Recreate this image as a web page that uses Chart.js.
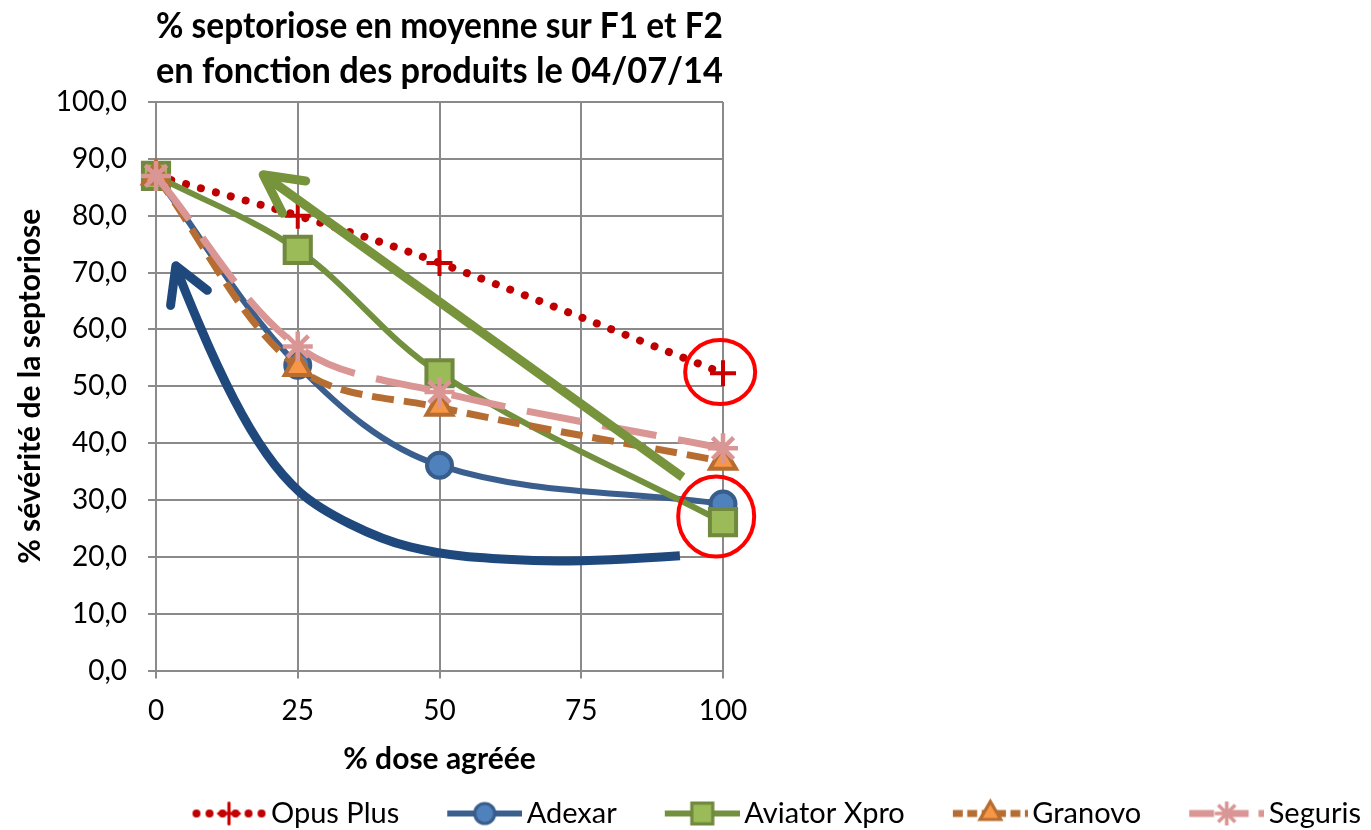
<!DOCTYPE html>
<html>
<head>
<meta charset="utf-8">
<script src="https://cdn.jsdelivr.net/npm/chart.js@4.4.1/dist/chart.umd.min.js"></script>
<style>
  html, body { margin: 0; padding: 0; background: #ffffff; }
  #wrap { width: 1371px; height: 830px; position: relative; }
</style>
</head>
<body>
<div id="wrap"><canvas id="c" width="1371" height="830"></canvas></div>
<script>
// ---- Data ----
const doses = [0, 25, 50, 100];
const opusPlus = [87.0, 80.0, 71.7, 52.3];
const adexar = [87.0, 53.7, 36.1, 29.3];
const aviatorXpro = [87.0, 74.0, 52.3, 26.1];
const granovo = [87.0, 53.3, 46.3, 36.8];
const seguris = [87.0, 57.0, 49.0, 39.1];
const seriesNames = ['Opus Plus', 'Adexar', 'Aviator Xpro', 'Granovo', 'Seguris'];
const xTicks = [0, 25, 50, 75, 100];
const titleLines = ['% septoriose en moyenne sur F1 et F2', 'en fonction des produits le 04/07/14'];
const xTitle = '% dose agréée';
const yTitle = '% sévérité de la septoriose';

// Annotation shapes, in data units (x = % dose, y = % sévérité)
const blueArrowPath = [[92.4,20.2],[74.8,19.0],[58.4,19.7],[49.6,20.6],[40.0,22.9],[28.4,28.7],[22.4,34.0],[16.6,42.2],[10.8,53.4],[4.8,67.5],[3.5,71.2]];
const greenArrowPath = [[92.9,34.0],[18.9,87.2]];
const redCircleCenters = [[99.5,52.5],[98.8,27.1]];

const FONT = "Lato, 'Open Sans', 'Noto Sans', sans-serif";
const GRID = '#8a8a8a';

function pts(arr) { return doses.map((d, i) => ({x: d, y: arr[i]})); }

const datasets = [
  { label: seriesNames[0], data: pts(opusPlus), borderColor: '#c00000', backgroundColor: '#c00000',
    borderWidth: 8, borderDash: [0.01, 15.5], borderCapStyle: 'round',
    pointStyle: 'cross', pointRadius: 13, pointBorderWidth: 4, pointBorderColor: '#c80000', order: 5, clip: false },
  { label: seriesNames[1], data: pts(adexar), borderColor: '#3a5f8e', backgroundColor: '#4f81bd',
    borderWidth: 6, pointStyle: 'circle', pointRadius: 12.5, pointBorderWidth: 4,
    pointBorderColor: '#385d8a', pointBackgroundColor: '#4f81bd', order: 4, clip: false },
  { label: seriesNames[2], data: pts(aviatorXpro), borderColor: '#72903d', backgroundColor: '#9bbb59',
    borderWidth: 6, pointStyle: 'rect', pointRadius: 18.5, pointBorderWidth: 4,
    pointBorderColor: '#71893f', pointBackgroundColor: '#9bbb59', order: 3, clip: false },
  { label: seriesNames[3], data: pts(granovo), borderColor: '#b66d31', backgroundColor: '#f79646',
    borderWidth: 7, borderDash: [22, 10], pointStyle: 'triangle', pointRadius: 15, pointBorderWidth: 4,
    pointBorderColor: '#b66d31', pointBackgroundColor: '#f79646', order: 2, clip: false },
  { label: seriesNames[4], data: pts(seguris), borderColor: '#d99694', backgroundColor: '#d99694',
    borderWidth: 7, borderDash: [55, 22], pointStyle: 'star', pointRadius: 15, pointBorderWidth: 4.5,
    pointBorderColor: '#d99694', order: 1, clip: false }
];

// legend images: line + marker
const LEG_BOX = 103;
function legendImage(ds) {
  const W = LEG_BOX + 20, H = 34;
  const cv = document.createElement('canvas');
  cv.width = W; cv.height = H;
  const ctx = cv.getContext('2d');
  const x0 = W - 75, x1 = W, cy = H / 2, cx = (x0 + x1) / 2;
  ctx.strokeStyle = ds.borderColor;
  ctx.lineWidth = ds.borderWidth;
  ctx.lineCap = ds.borderCapStyle || 'butt';
  if (ds.borderDash) ctx.setLineDash(ds.label === 'Opus Plus' ? [0.01, 13] : ds.borderDash.map(v => v * 0.45));
  ctx.beginPath(); ctx.moveTo(x0 + (ds.label === 'Opus Plus' ? 5 : 0), cy); ctx.lineTo(x1, cy); ctx.stroke();
  ctx.setLineDash([]);
  ctx.fillStyle = ds.pointBackgroundColor || ds.backgroundColor;
  ctx.strokeStyle = ds.pointBorderColor;
  ctx.lineWidth = ds.pointBorderWidth * 0.8;
  Chart.helpers.drawPoint(ctx, {pointStyle: ds.pointStyle, rotation: 0, radius: ds.pointRadius * 0.8, borderWidth: ds.pointBorderWidth}, cx, cy);
  return cv;
}
const legendImgs = datasets.map(legendImage);

const annotations = {
  id: 'annotations',
  afterDatasetsDraw(chart) {
    const {ctx, scales: {x, y}} = chart;
    const P = p => [x.getPixelForValue(p[0]), y.getPixelForValue(p[1])];
    function head(tip, from, len, ang, color, lw) {
      const a = Math.atan2(from[1] - tip[1], from[0] - tip[0]);
      ctx.beginPath();
      ctx.moveTo(tip[0] + len * Math.cos(a + ang), tip[1] + len * Math.sin(a + ang));
      ctx.lineTo(tip[0], tip[1]);
      ctx.lineTo(tip[0] + len * Math.cos(a - ang), tip[1] + len * Math.sin(a - ang));
      ctx.strokeStyle = color; ctx.lineWidth = lw; ctx.lineCap = 'round'; ctx.lineJoin = 'round';
      ctx.stroke();
    }
    ctx.save();
    ctx.setLineDash([]);
    // blue curved arrow
    const bp = blueArrowPath.map(P);
    ctx.beginPath();
    ctx.moveTo(bp[0][0], bp[0][1]);
    for (let i = 1; i < bp.length - 1; i++) {
      const mx = (bp[i][0] + bp[i+1][0]) / 2, my = (bp[i][1] + bp[i+1][1]) / 2;
      ctx.quadraticCurveTo(bp[i][0], bp[i][1], mx, my);
    }
    ctx.lineTo(bp[bp.length-1][0], bp[bp.length-1][1]);
    ctx.strokeStyle = '#1f497d'; ctx.lineWidth = 9; ctx.lineCap = 'butt'; ctx.lineJoin = 'round';
    ctx.stroke();
    head(bp[bp.length-1], bp[bp.length-3], 40, 0.52, '#1f497d', 9);
    // green straight arrow
    const g0 = P(greenArrowPath[0]), g1 = P(greenArrowPath[1]);
    ctx.beginPath(); ctx.moveTo(g0[0], g0[1]); ctx.lineTo(g1[0], g1[1]);
    ctx.strokeStyle = '#77933c'; ctx.lineWidth = 9; ctx.lineCap = 'butt'; ctx.stroke();
    head(g1, g0, 43, 0.48, '#77933c', 9);
    // red circles
    const radii = [[35, 32], [38, 40]];
    redCircleCenters.forEach((c, i) => {
      const p = P(c);
      ctx.beginPath();
      ctx.ellipse(p[0], p[1], radii[i][0], radii[i][1], 0, 0, Math.PI * 2);
      ctx.strokeStyle = '#ff0000'; ctx.lineWidth = 4; ctx.stroke();
    });
    ctx.restore();
  }
};

new Chart(document.getElementById('c'), {
  type: 'line',
  data: { datasets },
  options: {
    responsive: false,
    animation: false,
    devicePixelRatio: 1,
    layout: { padding: { top: 0, left: 0, right: 0, bottom: -8 } },
    elements: { line: { tension: 0.35, fill: false } },
    plugins: {
      tooltip: { enabled: false },
      title: {
        display: true, text: titleLines, color: '#000', fullSize: false,
        font: { family: FONT, size: 37, weight: 'bold', lineHeight: 1.216 },
        padding: { top: 4, bottom: 8 }
      },
      legend: {
        display: true, position: 'bottom', align: 'end',
        labels: {
          usePointStyle: true, pointStyleWidth: LEG_BOX, padding: 10, color: '#000',
          font: { family: FONT, size: 29 },
          generateLabels: (chart) => chart.data.datasets.map((ds, i) => ({
            text: ds.label, pointStyle: legendImgs[i], datasetIndex: i, hidden: false,
            lineWidth: 0, strokeStyle: 'rgba(0,0,0,0)', fillStyle: 'rgba(0,0,0,0)', fontColor: '#000'
          }))
        }
      }
    },
    scales: {
      x: {
        type: 'linear', min: 0, max: 100,
        afterBuildTicks: s => { s.ticks = xTicks.map(v => ({value: v})); },
        afterFit: s => { s.height = 118.4; },
        grid: { color: GRID, lineWidth: 2, tickLength: 8, drawTicks: true },
        border: { color: GRID, width: 2 },
        ticks: { color: '#000', font: { family: FONT, size: 28 }, padding: 16, maxRotation: 0 },
        title: { display: true, text: xTitle, color: '#000', font: { family: FONT, size: 30, weight: 'bold' }, padding: { top: 0, bottom: 12 } }
      },
      y: {
        type: 'linear', min: 0, max: 100, position: 'left',
        afterFit: s => { s.width = 156; },
        grid: { color: GRID, lineWidth: 2, tickLength: 8 },
        border: { color: GRID, width: 2 },
        ticks: { stepSize: 10, color: '#000', font: { family: FONT, size: 28 }, padding: 21,
                 callback: v => v.toFixed(1).replace('.', ',') },
        title: { display: true, text: yTitle, color: '#000', font: { family: FONT, size: 30, weight: 'bold' }, padding: { top: 12, bottom: 0 } }
      },
      yR: {
        type: 'linear', position: 'right', display: true,
        afterFit: s => { s.width = 1371 - 723; },
        grid: { display: false }, border: { display: false }, ticks: { display: false }
      }
    }
  },
  plugins: [annotations]
});
</script>
</body>
</html>
